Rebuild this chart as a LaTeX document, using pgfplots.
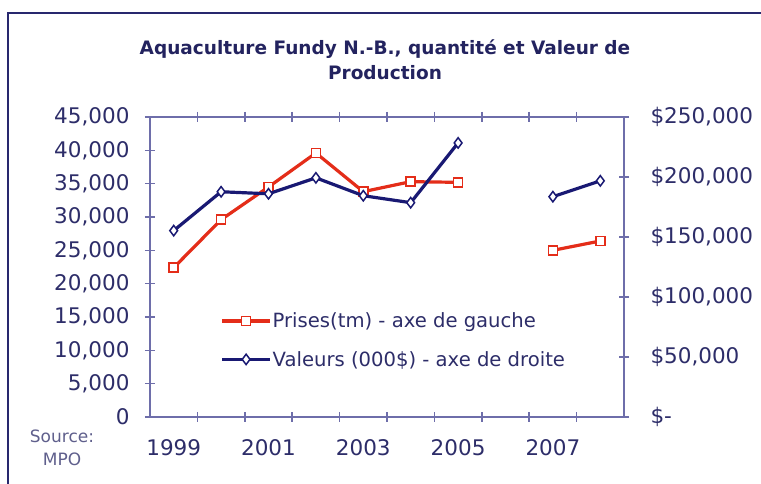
\documentclass[border=0pt]{standalone}
\usepackage{pgfplots}
\pgfplotsset{compat=1.18}
\usepackage{fontspec}
\setmainfont{DejaVu Sans}
\definecolor{txt}{RGB}{45,45,105}
\definecolor{ttl}{RGB}{35,35,95}
\definecolor{axc}{RGB}{110,110,170}
\definecolor{redl}{RGB}{228,45,25}
\definecolor{navl}{RGB}{25,25,115}
\definecolor{frm}{RGB}{40,40,110}
\definecolor{src}{RGB}{95,95,140}

\pgfplotstableread{
x prises valeurs
0 22400 155300
1 29600 187700
2 34500 186000
3 39600 199300
4 33800 184400
5 35300 178600
6 35200 228400
7 nan nan
8 25000 183600
9 26400 196800
}\datatable

\begin{document}
\begin{tikzpicture}
\useasboundingbox (0pt,0pt) rectangle (761pt,484pt);
\fill[white] (0pt,0pt) rectangle (761pt,484pt);
\draw[frm, line width=2.2pt] (8pt,0pt) -- (8pt,471pt) -- (761pt,471pt);

\node[ttl, font=\fontsize{18.5}{25}\selectfont\bfseries, align=center] at (385pt,424pt)
  {Aquaculture Fundy N.-B., quantité et Valeur de\\Production};

\node[src, font=\fontsize{17}{23}\selectfont, align=center] at (62pt,36pt) {Source:\\MPO};

\begin{axis}[
  at={(150pt,67pt)}, anchor=south west,
  width=474pt, height=300pt, scale only axis,
  xmin=-0.5, xmax=9.5, ymin=0, ymax=45000,
  scaled y ticks=false,
  axis y line*=left, axis x line*=box,
  axis line style={axc, line width=1.6pt},
  every tick/.style={axc, line width=1.6pt},
  tick align=center, major tick length=10pt,
  xtick={0.5,1.5,...,8.5}, xticklabels={},
  extra x ticks={0,2,4,6,8},
  extra x tick labels={1999,2001,2003,2005,2007},
  extra x tick style={major tick length=0pt, tick style={draw=none}},
  xticklabel style={txt, font=\fontsize{21.5}{24}\selectfont, yshift=-19pt},
  ytick={0,5000,...,45000},
  yticklabels={0,{5,000},{10,000},{15,000},{20,000},{25,000},{30,000},{35,000},{40,000},{45,000}},
  yticklabel style={txt, font=\fontsize{21.5}{24}\selectfont, xshift=-12pt},
  unbounded coords=jump,
  legend style={draw=none, fill=none, at={(0.142,0.256)}, anchor=west,
    font=\fontsize{19.6}{22}\selectfont, text=txt, row sep=20pt,
    nodes={inner sep=1pt}},
  legend cell align=left,
  legend image code/.code={\draw[mark repeat=2,mark phase=2] plot coordinates {(0pt,0pt) (24pt,0pt) (48pt,0pt)};},
]
\addplot[redl, line width=3.2pt, mark=square*, mark size=4.5pt,
  mark options={fill=white, line width=1.5pt, solid}] table[x=x, y=prises] {\datatable};
\addlegendentry{Prises(tm) - axe de gauche}
\addlegendimage{navl, line width=3.2pt, mark=diamond*, mark size=5.2pt,
  mark options={fill=white, line width=1.5pt, solid}}
\addlegendentry{Valeurs (000\$) - axe de droite}
\end{axis}

\begin{axis}[
  at={(150pt,67pt)}, anchor=south west,
  width=474pt, height=300pt, scale only axis,
  xmin=-0.5, xmax=9.5, ymin=0, ymax=250000,
  scaled y ticks=false,
  axis x line=none, axis y line*=right,
  axis line style={axc, line width=1.6pt},
  every tick/.style={axc, line width=1.6pt},
  tick align=center, major tick length=10pt,
  ytick={0,50000,...,250000},
  yticklabels={\$-,{\$50,000},{\$100,000},{\$150,000},{\$200,000},{\$250,000}},
  yticklabel style={txt, font=\fontsize{21.5}{24}\selectfont, xshift=18pt},
  unbounded coords=jump,
]
\addplot[navl, line width=3.2pt, mark=diamond*, mark size=5.2pt,
  mark options={fill=white, line width=1.5pt, solid}] table[x=x, y=valeurs] {\datatable};
\end{axis}
\end{tikzpicture}
\end{document}
